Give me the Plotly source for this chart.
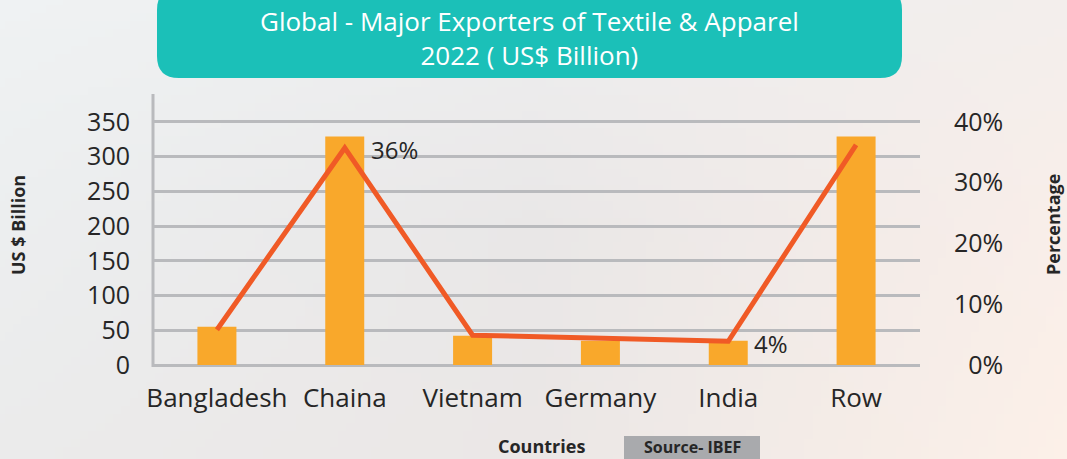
import base64
import struct
import zlib

import plotly.graph_objects as go

# ---------------- data ----------------
categories = ["Bangladesh", "Chaina", "Vietnam", "Germany", "India", "Row"]
exports_usd_bn = [55, 329, 42, 35, 35, 329]
share_pct = [5.8, 35.7, 4.9, 4.4, 3.9, 36.2]
share_labels = ["", "36%", "", "", "4%", ""]
left_tick_vals = [0, 50, 100, 150, 200, 250, 300, 350]
right_tick_vals = [0, 10, 20, 30, 40]
right_tick_text = ["\u20070%", "10%", "20%", "30%", "40%"]

title_text = "Global - Major Exporters of Textile & Apparel<br>2022 ( US$ Billion)"

# ---------------- geometry helpers ----------------
W, H = 1067, 459
PLOT_L, PLOT_R, PLOT_T, PLOT_B = 153, 920, 94, 365


def fx(x):
    return x / W


def fy(y):
    return 1 - y / H


# left axis 0..390 maps onto plot height; right axis scaled so 350 <-> 40 %
LEFT_MAX = 390
RIGHT_MAX = 40 * LEFT_MAX / 350

# ---------------- background gradient image (style only) ----------------
def hex2rgb(h):
    h = h.lstrip("#")
    return tuple(int(h[i:i + 2], 16) for i in (0, 2, 4))


grid = [
    [hex2rgb("#eff2f3"), hex2rgb("#eeeeef"), hex2rgb("#f3eeec")],
    [hex2rgb("#eceeef"), hex2rgb("#e9e7e7"), hex2rgb("#f9eee9")],
    [hex2rgb("#ebebeb"), hex2rgb("#ebe7e6"), hex2rgb("#fcf0e8")],
]


def lerp(a, b, t):
    return a + (b - a) * t


def color_at(u, v):
    gx = min(u * 2, 1.9999)
    gy = min(v * 2, 1.9999)
    ix, iy = int(gx), int(gy)
    tx, ty = gx - ix, gy - iy
    out = []
    for c in range(3):
        top = lerp(grid[iy][ix][c], grid[iy][ix + 1][c], tx)
        bot = lerp(grid[iy + 1][ix][c], grid[iy + 1][ix + 1][c], tx)
        out.append(int(round(lerp(top, bot, ty))))
    return out


IW, IH = 128, 56
raw = bytearray()
for j in range(IH):
    raw.append(0)
    for i in range(IW):
        raw.extend(color_at(i / (IW - 1), j / (IH - 1)))


def png_chunk(tag, data):
    c = struct.pack(">I", len(data)) + tag + data
    return c + struct.pack(">I", zlib.crc32(tag + data) & 0xFFFFFFFF)


png = b"\x89PNG\r\n\x1a\n"
png += png_chunk(b"IHDR", struct.pack(">IIBBBBB", IW, IH, 8, 2, 0, 0, 0))
png += png_chunk(b"IDAT", zlib.compress(bytes(raw), 9))
png += png_chunk(b"IEND", b"")
bg_uri = "data:image/png;base64," + base64.b64encode(png).decode()

# ---------------- figure ----------------
FONT = "'Open Sans', Lato, sans-serif"
TXT = "#262626"
GRID = "#b9babd"
BAR = "#f9a82b"
LINE = "#f05a26"

fig = go.Figure()

fig.add_trace(go.Bar(
    x=categories, y=exports_usd_bn, marker=dict(color=BAR, line=dict(width=0)),
    width=0.305, yaxis="y", name="Exports", hoverinfo="x+y",
))
fig.add_trace(go.Scatter(
    x=categories, y=share_pct, yaxis="y2", mode="lines",
    line=dict(color=LINE, width=5), name="Share",
))

for cat, val, lab in zip(categories, share_pct, share_labels):
    if lab:
        fig.add_annotation(
            x=cat, y=val, xref="x", yref="y2", text=lab, showarrow=False,
            xanchor="left", yanchor="middle", xshift=24, yshift=-2,
            font=dict(family=FONT, size=24, color=TXT),
        )

# title box (rounded rectangle) in paper coordinates (= figure fractions)
x0, x1 = fx(157), fx(902)
y0, y1 = fy(-12), fy(78)
rx, ry = 22 / W, 22 / H
path = (
    f"M {x0 + rx} {y0} L {x1 - rx} {y0} Q {x1} {y0} {x1} {y0 - ry} "
    f"L {x1} {y1 + ry} Q {x1} {y1} {x1 - rx} {y1} "
    f"L {x0 + rx} {y1} Q {x0} {y1} {x0} {y1 + ry} "
    f"L {x0} {y0 - ry} Q {x0} {y0} {x0 + rx} {y0} Z"
)
fig.add_shape(type="path", path=path, xref="paper", yref="paper",
              fillcolor="#1bc0b8", line=dict(width=0), layer="above")
fig.add_annotation(
    x=fx(529), y=fy(38), xref="paper", yref="paper", text=title_text,
    showarrow=False, xanchor="center", yanchor="middle",
    font=dict(family=FONT, size=26, color="white"),
)

# left axis line
fig.add_shape(type="line", xref="paper", yref="paper",
              x0=fx(PLOT_L), x1=fx(PLOT_L), y0=fy(367), y1=fy(94),
              line=dict(color=GRID, width=3))

# axis titles
fig.add_annotation(x=fx(18), y=fy(225), xref="paper", yref="paper",
                   text="<b>US $ Billion</b>", textangle=-90, showarrow=False,
                   xanchor="center", yanchor="middle", borderpad=0,
                   font=dict(family=FONT, size=18, color=TXT))
fig.add_annotation(x=fx(1053), y=fy(225), xref="paper", yref="paper",
                   text="<b>Percentage</b>", textangle=-90, showarrow=False,
                   xanchor="center", yanchor="middle", borderpad=0,
                   font=dict(family=FONT, size=18, color=TXT))
fig.add_annotation(x=fx(541), y=fy(446), xref="paper", yref="paper",
                   text="<b>Countries</b>", showarrow=False,
                   xanchor="center", yanchor="middle", borderpad=0,
                   font=dict(family=FONT, size=18, color=TXT))

# source box
fig.add_shape(type="rect", xref="paper", yref="paper",
              x0=fx(624), x1=fx(760), y0=fy(436), y1=fy(462),
              fillcolor="#a9aaad", line=dict(width=0))
fig.add_annotation(x=fx(692), y=fy(447), xref="paper", yref="paper",
                   text="<b>Source- IBEF</b>", showarrow=False,
                   xanchor="center", yanchor="middle", borderpad=0,
                   font=dict(family=FONT, size=16, color=TXT))

fig.add_layout_image(dict(
    source=bg_uri, xref="paper", yref="paper", x=0, y=1, sizex=1, sizey=1,
    xanchor="left", yanchor="top", sizing="stretch", layer="below",
))

fig.update_layout(
    width=W, height=H, autosize=False,
    margin=dict(l=0, r=0, t=0, b=0, pad=0, autoexpand=False),
    paper_bgcolor="#ecebeb",
    plot_bgcolor="rgba(0,0,0,0)",
    showlegend=False,
    bargap=0.3,
    font=dict(family=FONT, size=22, color=TXT),
    xaxis=dict(
        domain=[fx(PLOT_L), fx(PLOT_R)], showgrid=False, zeroline=False,
        showline=False, ticks="", ticklabelstandoff=15, automargin=False,
        tickfont=dict(family=FONT, size=26, color=TXT),
    ),
    yaxis=dict(
        domain=[fy(PLOT_B), fy(PLOT_T)], range=[0, LEFT_MAX],
        tickvals=left_tick_vals, showgrid=True, gridcolor=GRID, gridwidth=3,
        zeroline=True, zerolinecolor=GRID, zerolinewidth=3, automargin=False,
        showline=False, ticks="", ticklabelstandoff=22,
        tickfont=dict(family=FONT, size=25, color=TXT),
    ),
    yaxis2=dict(
        overlaying="y", side="right", range=[0, RIGHT_MAX],
        tickvals=right_tick_vals, ticktext=right_tick_text, automargin=False,
        showgrid=False, zeroline=False, showline=False, ticks="",
        ticklabelstandoff=33,
        tickfont=dict(family=FONT, size=25, color=TXT),
    ),
)

post = (
    "document.body.style.margin='0';"
    "document.body.style.overflow='hidden';"
)
fig.write_html("out.html", config={"responsive": False, "displayModeBar": False},
               post_script=post)
